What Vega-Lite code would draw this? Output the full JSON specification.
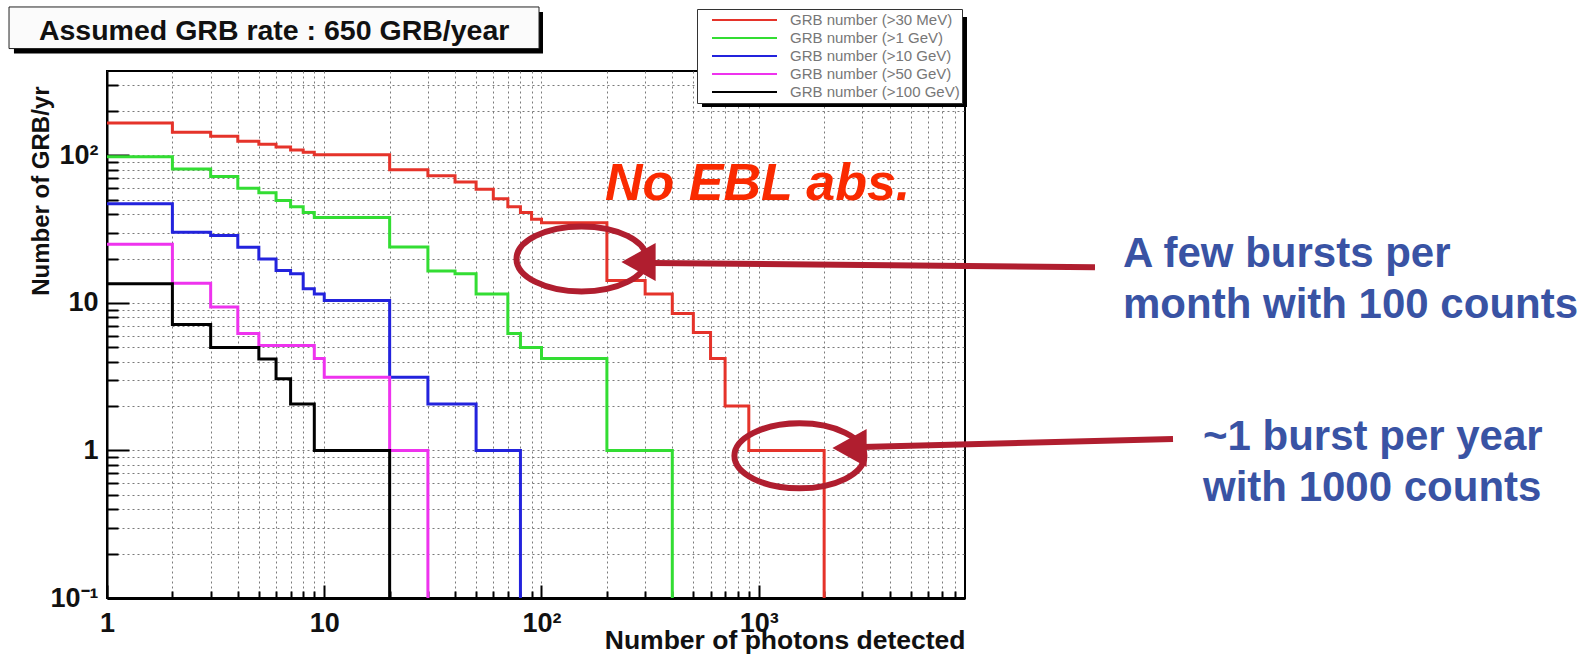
{
  "$schema": "https://vega.github.io/schema/vega-lite/v6.json",
  "width": 858,
  "height": 527,
  "autosize": {"type": "none"},
  "padding": {"left": 107, "top": 71, "right": 628, "bottom": 56},
  "background": "white",
  "config": {
    "view": {"stroke": "black", "strokeWidth": 2},
    "font": "Liberation Sans"
  },
  "datasets": {
    "hist": [
      {"series": "GRB number (>30 MeV)", "x": 1, "y": 166},
      {"series": "GRB number (>30 MeV)", "x": 2, "y": 144},
      {"series": "GRB number (>30 MeV)", "x": 3, "y": 135},
      {"series": "GRB number (>30 MeV)", "x": 4, "y": 125},
      {"series": "GRB number (>30 MeV)", "x": 5, "y": 119},
      {"series": "GRB number (>30 MeV)", "x": 6, "y": 114},
      {"series": "GRB number (>30 MeV)", "x": 7, "y": 109},
      {"series": "GRB number (>30 MeV)", "x": 8, "y": 105},
      {"series": "GRB number (>30 MeV)", "x": 9, "y": 101},
      {"series": "GRB number (>30 MeV)", "x": 10, "y": 101},
      {"series": "GRB number (>30 MeV)", "x": 20, "y": 80},
      {"series": "GRB number (>30 MeV)", "x": 30, "y": 73},
      {"series": "GRB number (>30 MeV)", "x": 40, "y": 66},
      {"series": "GRB number (>30 MeV)", "x": 50, "y": 59},
      {"series": "GRB number (>30 MeV)", "x": 60, "y": 51},
      {"series": "GRB number (>30 MeV)", "x": 70, "y": 45},
      {"series": "GRB number (>30 MeV)", "x": 80, "y": 41},
      {"series": "GRB number (>30 MeV)", "x": 90, "y": 37},
      {"series": "GRB number (>30 MeV)", "x": 100, "y": 35},
      {"series": "GRB number (>30 MeV)", "x": 200, "y": 14.2},
      {"series": "GRB number (>30 MeV)", "x": 300, "y": 11.5},
      {"series": "GRB number (>30 MeV)", "x": 400, "y": 8.5},
      {"series": "GRB number (>30 MeV)", "x": 500, "y": 6.3},
      {"series": "GRB number (>30 MeV)", "x": 600, "y": 4.2},
      {"series": "GRB number (>30 MeV)", "x": 700, "y": 2},
      {"series": "GRB number (>30 MeV)", "x": 800, "y": 2},
      {"series": "GRB number (>30 MeV)", "x": 900, "y": 1},
      {"series": "GRB number (>30 MeV)", "x": 1000, "y": 1},
      {"series": "GRB number (>30 MeV)", "x": 2000, "y": 0.1},
      {"series": "GRB number (>1 GeV)", "x": 1, "y": 98},
      {"series": "GRB number (>1 GeV)", "x": 2, "y": 81},
      {"series": "GRB number (>1 GeV)", "x": 3, "y": 72},
      {"series": "GRB number (>1 GeV)", "x": 4, "y": 60},
      {"series": "GRB number (>1 GeV)", "x": 5, "y": 56},
      {"series": "GRB number (>1 GeV)", "x": 6, "y": 49.5},
      {"series": "GRB number (>1 GeV)", "x": 7, "y": 45},
      {"series": "GRB number (>1 GeV)", "x": 8, "y": 41},
      {"series": "GRB number (>1 GeV)", "x": 9, "y": 38},
      {"series": "GRB number (>1 GeV)", "x": 10, "y": 38},
      {"series": "GRB number (>1 GeV)", "x": 20, "y": 24},
      {"series": "GRB number (>1 GeV)", "x": 30, "y": 16.5},
      {"series": "GRB number (>1 GeV)", "x": 40, "y": 15.8},
      {"series": "GRB number (>1 GeV)", "x": 50, "y": 11.5},
      {"series": "GRB number (>1 GeV)", "x": 60, "y": 11.5},
      {"series": "GRB number (>1 GeV)", "x": 70, "y": 6.2},
      {"series": "GRB number (>1 GeV)", "x": 80, "y": 5},
      {"series": "GRB number (>1 GeV)", "x": 90, "y": 5},
      {"series": "GRB number (>1 GeV)", "x": 100, "y": 4.2},
      {"series": "GRB number (>1 GeV)", "x": 200, "y": 1},
      {"series": "GRB number (>1 GeV)", "x": 300, "y": 1},
      {"series": "GRB number (>1 GeV)", "x": 400, "y": 0.1},
      {"series": "GRB number (>10 GeV)", "x": 1, "y": 47},
      {"series": "GRB number (>10 GeV)", "x": 2, "y": 30.2},
      {"series": "GRB number (>10 GeV)", "x": 3, "y": 28.7},
      {"series": "GRB number (>10 GeV)", "x": 4, "y": 23.9},
      {"series": "GRB number (>10 GeV)", "x": 5, "y": 19.9},
      {"series": "GRB number (>10 GeV)", "x": 6, "y": 16.6},
      {"series": "GRB number (>10 GeV)", "x": 7, "y": 15.8},
      {"series": "GRB number (>10 GeV)", "x": 8, "y": 12.5},
      {"series": "GRB number (>10 GeV)", "x": 9, "y": 11.5},
      {"series": "GRB number (>10 GeV)", "x": 10, "y": 10.4},
      {"series": "GRB number (>10 GeV)", "x": 20, "y": 3.14},
      {"series": "GRB number (>10 GeV)", "x": 30, "y": 2.07},
      {"series": "GRB number (>10 GeV)", "x": 40, "y": 2.07},
      {"series": "GRB number (>10 GeV)", "x": 50, "y": 1},
      {"series": "GRB number (>10 GeV)", "x": 60, "y": 1},
      {"series": "GRB number (>10 GeV)", "x": 70, "y": 1},
      {"series": "GRB number (>10 GeV)", "x": 80, "y": 0.1},
      {"series": "GRB number (>50 GeV)", "x": 1, "y": 25},
      {"series": "GRB number (>50 GeV)", "x": 2, "y": 13.6},
      {"series": "GRB number (>50 GeV)", "x": 3, "y": 9.4},
      {"series": "GRB number (>50 GeV)", "x": 4, "y": 6.2},
      {"series": "GRB number (>50 GeV)", "x": 5, "y": 5.15},
      {"series": "GRB number (>50 GeV)", "x": 6, "y": 5.15},
      {"series": "GRB number (>50 GeV)", "x": 7, "y": 5.15},
      {"series": "GRB number (>50 GeV)", "x": 8, "y": 5.15},
      {"series": "GRB number (>50 GeV)", "x": 9, "y": 4.2},
      {"series": "GRB number (>50 GeV)", "x": 10, "y": 3.14},
      {"series": "GRB number (>50 GeV)", "x": 20, "y": 1},
      {"series": "GRB number (>50 GeV)", "x": 30, "y": 0.1},
      {"series": "GRB number (>100 GeV)", "x": 1, "y": 13.5},
      {"series": "GRB number (>100 GeV)", "x": 2, "y": 7.15},
      {"series": "GRB number (>100 GeV)", "x": 3, "y": 5},
      {"series": "GRB number (>100 GeV)", "x": 4, "y": 5},
      {"series": "GRB number (>100 GeV)", "x": 5, "y": 4.18},
      {"series": "GRB number (>100 GeV)", "x": 6, "y": 3.06},
      {"series": "GRB number (>100 GeV)", "x": 7, "y": 2.07},
      {"series": "GRB number (>100 GeV)", "x": 8, "y": 2.07},
      {"series": "GRB number (>100 GeV)", "x": 9, "y": 1},
      {"series": "GRB number (>100 GeV)", "x": 10, "y": 1},
      {"series": "GRB number (>100 GeV)", "x": 20, "y": 0.1}
    ],
    "shadows": [
      {"x": 0.373, "x2": 101.6, "y": 940, "y2": 491},
      {"x": 548, "x2": 9090, "y": 869, "y2": 213}
    ],
    "titlebox": [
      {"x": 0.354, "x2": 97.4, "y": 1016, "y2": 531}
    ],
    "titletext": [
      {"x": 0.486, "y": 607, "label": "Assumed GRB rate : 650 GRB/year"}
    ],
    "ellipses": [
      {"x": 152.8, "y": 19.9},
      {"x": 1539, "y": 0.92}
    ],
    "arrows": [
      {"x": 322.6, "x2": 35300, "y": 18.7, "y2": 17.5},
      {"x": 2987, "x2": 80700, "y": 1.056, "y2": 1.197}
    ],
    "heads": [
      {"x": 279.6, "y": 18.97},
      {"x": 2617, "y": 1.04}
    ],
    "redtext": [
      {"x": 196, "y": 50, "label": "No EBL abs."}
    ],
    "bluetext": [
      {"x": 47500, "y": 17.5, "label": "A few bursts per"},
      {"x": 47500, "y": 7.91, "label": "month with 100 counts"},
      {"x": 110900, "y": 1.008, "label": "~1 burst per year"},
      {"x": 110900, "y": 0.4546, "label": "with 1000 counts"}
    ]
  },
  "encoding": {
    "x": {
      "field": "x",
      "type": "quantitative",
      "scale": {"type": "log", "domain": [1, 8900], "nice": false},
      "axis": {
        "values": [1, 2, 3, 4, 5, 6, 7, 8, 9, 10, 20, 30, 40, 50, 60, 70, 80, 90, 100, 200, 300, 400, 500, 600, 700, 800, 900, 1000, 2000, 3000, 4000, 5000, 6000, 7000, 8000],
        "labelExpr": "datum.value == 1 ? '1' : datum.value == 10 ? '10' : datum.value == 100 ? '10²' : datum.value == 1000 ? '10³' : ''",
        "labelFontSize": 27,
        "labelFontWeight": "bold",
        "labelColor": "#111111",
        "labelFlush": false,
        "labelOverlap": false,
        "labelPadding": 25,
        "labelBaseline": "top",
        "ticks": true,
        "tickSize": {"condition": {"test": "indexof([1,10,100,1000], datum.value) >= 0", "value": -13}, "value": -7},
        "tickWidth": 2,
        "tickColor": "black",
        "domainColor": "black",
        "domainWidth": 3,
        "grid": true,
        "gridColor": "#7a7a7a",
        "gridDash": [2, 3],
        "gridWidth": 1,
        "title": "Number of photons detected",
        "titleFontSize": 26.5,
        "titleFontWeight": "bold",
        "titleColor": "#111111",
        "titleX": 858,
        "titleY": 50,
        "titleAlign": "right",
        "titleBaseline": "alphabetic",
        "titleAngle": 0
      }
    },
    "y": {
      "field": "y",
      "type": "quantitative",
      "scale": {"type": "log", "domain": [0.1, 374], "nice": false},
      "axis": {
        "values": [0.1, 0.2, 0.3, 0.4, 0.5, 0.6, 0.7, 0.8, 0.9, 1, 2, 3, 4, 5, 6, 7, 8, 9, 10, 20, 30, 40, 50, 60, 70, 80, 90, 100, 200, 300],
        "labelExpr": "datum.value == 0.1 ? '10⁻¹' : datum.value == 1 ? '1' : datum.value == 10 ? '10' : datum.value == 100 ? '10²' : ''",
        "labelFontSize": 27,
        "labelFontWeight": "bold",
        "labelColor": "#111111",
        "labelFlush": false,
        "labelOverlap": false,
        "labelPadding": 31,
        "labelBaseline": "middle",
        "ticks": true,
        "tickSize": {"condition": {"test": "indexof([0.1,1,10,100], datum.value) >= 0", "value": -22}, "value": -11},
        "tickWidth": 2,
        "tickColor": "black",
        "domainColor": "black",
        "domainWidth": 2,
        "grid": true,
        "gridColor": "#7a7a7a",
        "gridDash": [2, 3],
        "gridWidth": 1,
        "title": "Number of GRB/yr",
        "titleFontSize": 24,
        "titleFontWeight": "bold",
        "titleColor": "#111111",
        "titleAngle": 270,
        "titleX": -59,
        "titleY": 15,
        "titleAlign": "right",
        "titleBaseline": "alphabetic"
      }
    }
  },
  "layer": [
    {
      "data": {"name": "shadows"},
      "mark": {"type": "rect", "fill": "black"},
      "encoding": {"x2": {"field": "x2"}, "y2": {"field": "y2"}}
    },
    {
      "data": {"name": "titlebox"},
      "mark": {"type": "rect", "fill": "#fbfbfb", "stroke": "#222222", "strokeWidth": 1},
      "encoding": {"x2": {"field": "x2"}, "y2": {"field": "y2"}}
    },
    {
      "data": {"name": "titletext"},
      "mark": {"type": "text", "align": "left", "baseline": "alphabetic", "fontSize": 28.5, "fontWeight": "bold", "color": "#111111"},
      "encoding": {"text": {"field": "label"}}
    },
    {
      "data": {"name": "hist"},
      "mark": {"type": "line", "interpolate": "step-after", "strokeWidth": 3},
      "encoding": {
        "color": {
          "field": "series",
          "type": "nominal",
          "scale": {
            "domain": ["GRB number (>30 MeV)", "GRB number (>1 GeV)", "GRB number (>10 GeV)", "GRB number (>50 GeV)", "GRB number (>100 GeV)"],
            "range": ["#e5332a", "#33dd33", "#2323dd", "#ee33ee", "#000000"]
          },
          "legend": {
            "title": null,
            "orient": "none",
            "legendX": 590,
            "legendY": -62,
            "symbolType": "stroke",
            "symbolSize": 4225,
            "symbolStrokeWidth": 2,
            "clipHeight": 18,
            "rowPadding": 0,
            "padding": 2,
            "symbolOffset": 12,
            "labelOffset": 12,
            "labelFontSize": 15,
            "labelColor": "#777777",
            "labelFont": "Liberation Sans",
            "labelLimit": 400,
            "fillColor": "white",
            "strokeColor": "#333333"
          }
        }
      }
    },
    {
      "data": {"name": "ellipses"},
      "mark": {"type": "point", "shape": "M -1 0 A 1 0.5 0 1 1 1 0 A 1 0.5 0 1 1 -1 0 Z", "size": 16900, "filled": false, "color": "#b01e2f", "strokeWidth": 6, "opacity": 1}
    },
    {
      "data": {"name": "arrows"},
      "mark": {"type": "rule", "color": "#b01e2f", "strokeWidth": 6},
      "encoding": {"x2": {"field": "x2"}, "y2": {"field": "y2"}}
    },
    {
      "data": {"name": "heads"},
      "mark": {"type": "point", "shape": "M -0.9 0 L 0.9 -1 L 0.9 1 Z", "size": 1444, "filled": true, "color": "#b01e2f", "opacity": 1}
    },
    {
      "data": {"name": "redtext"},
      "mark": {"type": "text", "align": "left", "baseline": "alphabetic", "fontSize": 52, "fontWeight": "bold", "fontStyle": "italic", "color": "#fa2a00"},
      "encoding": {"text": {"field": "label"}}
    },
    {
      "data": {"name": "bluetext"},
      "mark": {"type": "text", "align": "left", "baseline": "alphabetic", "fontSize": 42, "fontWeight": "bold", "color": "#3953a4"},
      "encoding": {"text": {"field": "label"}}
    }
  ]
}
